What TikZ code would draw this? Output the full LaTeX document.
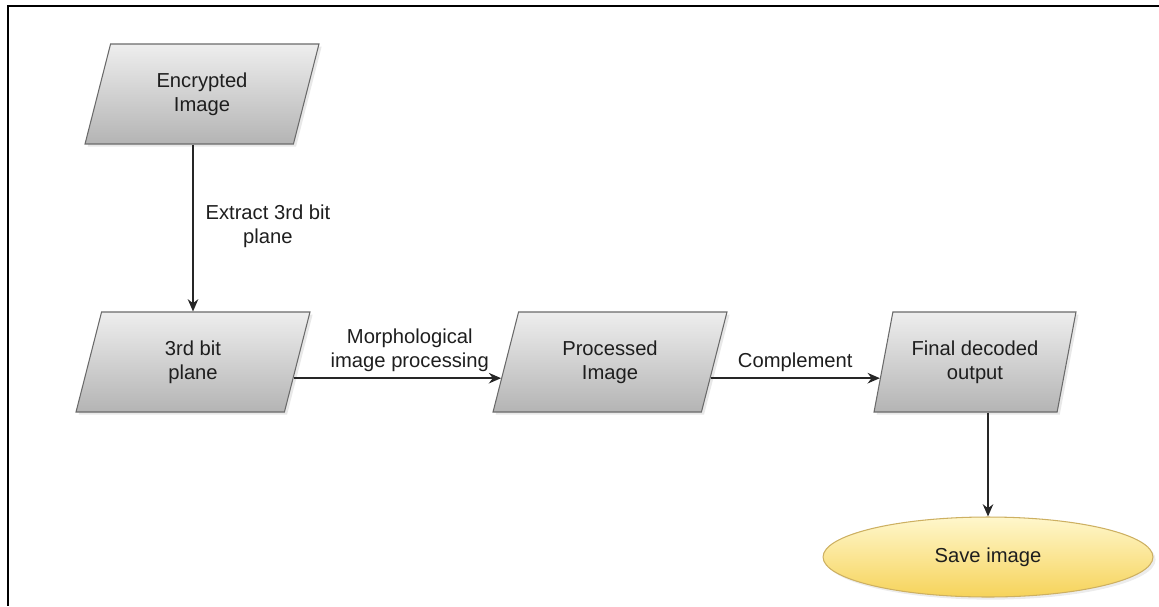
\documentclass[tikz,border=0pt]{standalone}
\usepackage{fontspec}
\setmainfont{Liberation Sans}
\usetikzlibrary{shapes.geometric,arrows.meta,calc,shadows}
\definecolor{boxtop}{HTML}{EEEEEE}
\definecolor{boxbottom}{HTML}{B4B4B4}
\definecolor{boxline}{HTML}{6A6A6A}
\definecolor{ovaltop}{HTML}{FFF7CC}
\definecolor{ovalbottom}{HTML}{F6D35A}
\definecolor{ovalline}{HTML}{CDB062}
\definecolor{inktext}{HTML}{1E1E1E}
\begin{document}
\begin{tikzpicture}[x=0.02cm, y=-0.02cm,
        every node/.style={font=\fontsize{11.5}{13.8}\selectfont, text=inktext},
        databox/.style={trapezium, trapezium left angle=65, trapezium right angle=115,
            trapezium stretches body, minimum width=4.68cm, minimum height=2cm,
            draw=boxline, line width=0.6pt, top color=boxtop, bottom color=boxbottom,
            align=center, drop shadow={shadow xshift=1.5pt, shadow yshift=-1.5pt, opacity=0.18}},
        endoval/.style={ellipse, minimum width=6.6cm, minimum height=1.6cm,
            draw=ovalline, line width=0.6pt, top color=ovaltop, bottom color=ovalbottom,
            drop shadow={shadow xshift=1.5pt, shadow yshift=-1.5pt, opacity=0.15}},
        flow/.style={-{Stealth[length=7pt,width=6pt]}, line width=0.8pt, black!85}]
        \useasboundingbox (0, 0) rectangle (1159, 606);

        % Frame
        \draw[line width=1.2pt] (1159, 6) -- (8, 6) -- (8, 606);

        % Boxes
        \node[databox] (encimg) at (202, 94) {Encrypted\\Image};
        \node[databox] (bitplane) at (193, 362) {3rd bit\\plane};
        \node[databox] (procimg) at (610, 362) {Processed\\Image};
        \node[databox, trapezium left angle=71, trapezium right angle=109,
            minimum width=4.04cm] (finalout) at (975, 362) {Final decoded\\output};
        \node[endoval] (saveimg) at (988, 557) {Save image};

        % Connections
        \draw[flow] (bitplane.north |- encimg.south) -- node[right, pos=0.49, xshift=0.12cm, align=center] (lblextract) {Extract 3rd bit\\plane} (bitplane.north);

        \draw[flow] ($(bitplane.top right corner)!0.66!(bitplane.bottom right corner)$) -- node[above, pos=0.56, align=center] (lblmorph) {Morphological\\image processing} ($(procimg.top left corner)!0.66!(procimg.bottom left corner)$);

        \draw[flow] ($(procimg.top right corner)!0.66!(procimg.bottom right corner)$) -- node[above] (lblcompl) {Complement} ($(finalout.top left corner)!0.66!(finalout.bottom left corner)$);

        \draw[flow] (saveimg.north |- finalout.south) -- (saveimg.north);
    \end{tikzpicture}
\end{document}
